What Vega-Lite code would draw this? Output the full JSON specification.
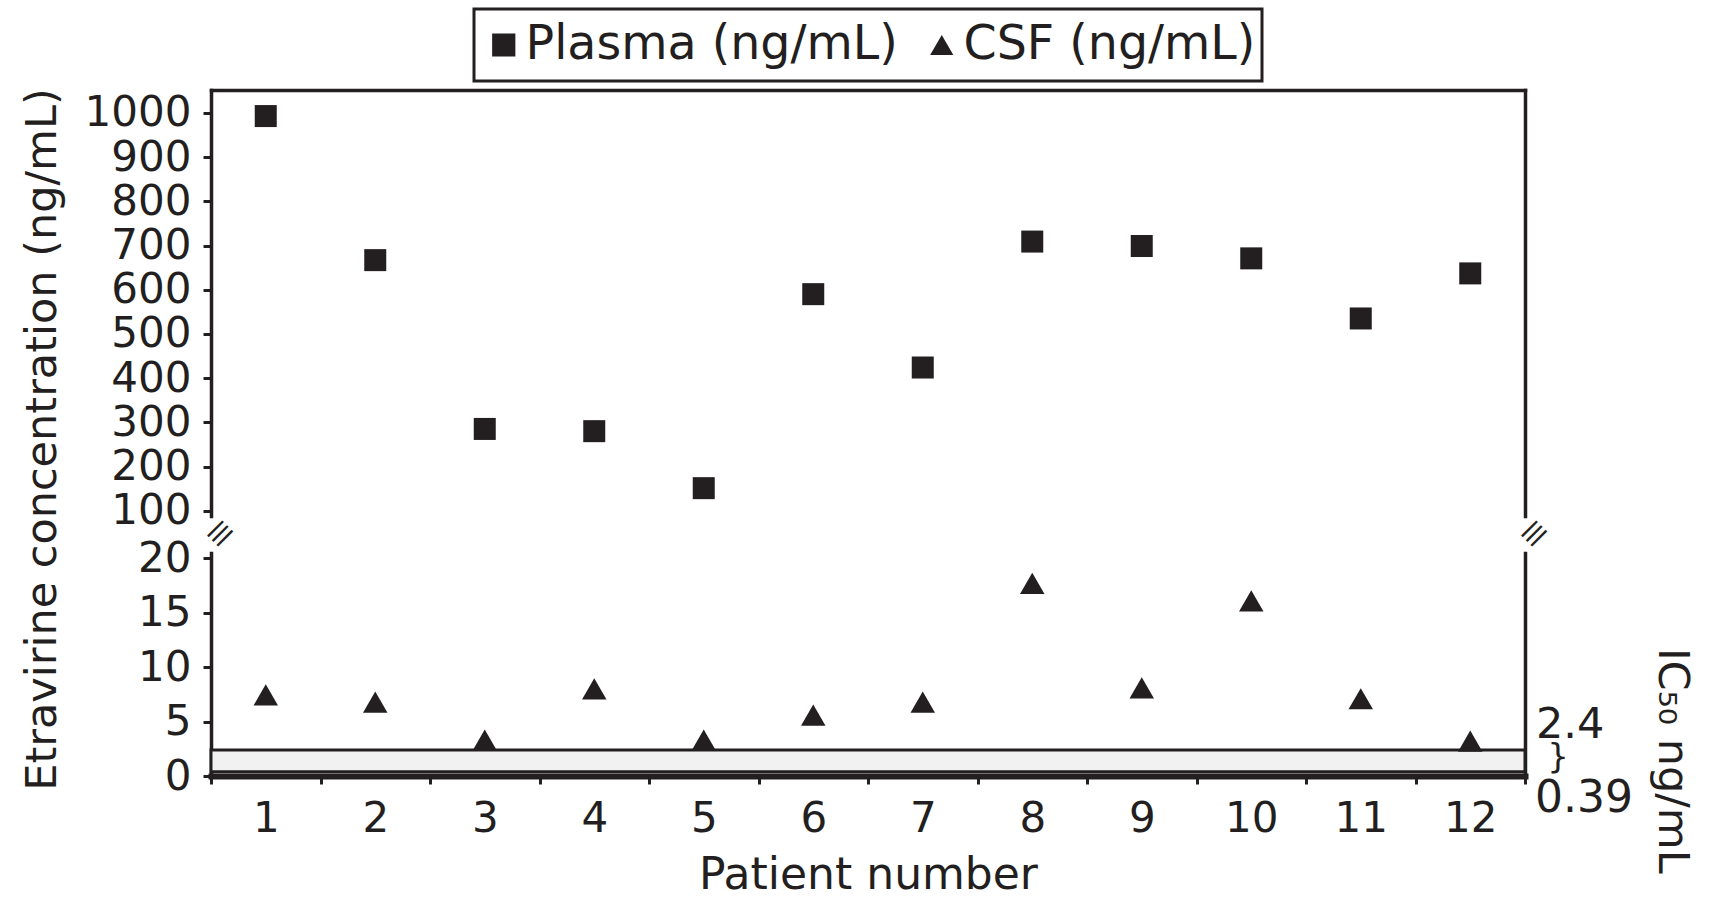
{
  "$schema": "https://vega.github.io/schema/vega-lite/v6.json",
  "background": "white",
  "padding": {"left": 21, "top": 7, "right": 18, "bottom": 0},
  "config": {
    "font": "DejaVu Sans",
    "view": {"stroke": null},
    "legend": {"strokeWidth": 3, "strokeColor": "#231f20"},
    "axis": {
      "grid": false,
      "domainColor": "#231f20",
      "tickColor": "#231f20",
      "labelColor": "#231f20",
      "titleColor": "#231f20",
      "domainWidth": 3.5,
      "tickWidth": 3,
      "tickSize": 8,
      "labelFontSize": 42,
      "titleFontSize": 43,
      "titleFontWeight": "normal",
      "domainCap": "square"
    }
  },
  "datasets": {
    "plasma": [
      {"patient": 1, "series": "Plasma (ng/mL)", "value": 993},
      {"patient": 2, "series": "Plasma (ng/mL)", "value": 667},
      {"patient": 3, "series": "Plasma (ng/mL)", "value": 285},
      {"patient": 4, "series": "Plasma (ng/mL)", "value": 280},
      {"patient": 5, "series": "Plasma (ng/mL)", "value": 151},
      {"patient": 6, "series": "Plasma (ng/mL)", "value": 590},
      {"patient": 7, "series": "Plasma (ng/mL)", "value": 424},
      {"patient": 8, "series": "Plasma (ng/mL)", "value": 709},
      {"patient": 9, "series": "Plasma (ng/mL)", "value": 699},
      {"patient": 10, "series": "Plasma (ng/mL)", "value": 671},
      {"patient": 11, "series": "Plasma (ng/mL)", "value": 535},
      {"patient": 12, "series": "Plasma (ng/mL)", "value": 637}
    ],
    "csf": [
      {"patient": 1, "series": "CSF (ng/mL)", "value": 7.45},
      {"patient": 2, "series": "CSF (ng/mL)", "value": 6.8},
      {"patient": 3, "series": "CSF (ng/mL)", "value": 3.3},
      {"patient": 4, "series": "CSF (ng/mL)", "value": 8.0},
      {"patient": 5, "series": "CSF (ng/mL)", "value": 3.3},
      {"patient": 6, "series": "CSF (ng/mL)", "value": 5.6},
      {"patient": 7, "series": "CSF (ng/mL)", "value": 6.8},
      {"patient": 8, "series": "CSF (ng/mL)", "value": 17.7},
      {"patient": 9, "series": "CSF (ng/mL)", "value": 8.1},
      {"patient": 10, "series": "CSF (ng/mL)", "value": 16.1},
      {"patient": 11, "series": "CSF (ng/mL)", "value": 7.1},
      {"patient": 12, "series": "CSF (ng/mL)", "value": 3.2}
    ],
    "ic50": [{"lo": 0.39, "hi": 2.4}],
    "icLabels": [
      {"label": "2.4", "value": 2.4},
      {"label": "0.39", "value": 0.39}
    ],
    "brace": [{"label": "}", "value": 1.4, "title": "IC₅₀ ng/mL"}],
    "breaks": [{"label": "≡", "value": 22.2}]
  },
  "spacing": 37,
  "bounds": "flush",
  "resolve": {"scale": {"shape": "shared"}, "legend": {"shape": "shared"}},
  "vconcat": [
    {
      "width": 1314,
      "height": 426,
      "data": {"name": "plasma"},
      "layer": [
        {
          "mark": {"type": "point", "filled": true, "size": 484, "color": "#231f20", "opacity": 1},
          "encoding": {
            "x": {
              "field": "patient", "type": "ordinal",
              "scale": {"paddingInner": 0, "paddingOuter": 0},
              "axis": {"orient": "top", "labels": false, "ticks": false, "title": null, "domain": true}
            },
            "y": {
              "field": "value", "type": "quantitative",
              "scale": {"domain": [88, 1052], "nice": false, "zero": false},
              "axis": {
                "orient": "left",
                "values": [100, 200, 300, 400, 500, 600, 700, 800, 900, 1000],
                "format": "d",
                "labelPadding": 12,
                "title": "Etravirine concentration (ng/mL)",
                "titleY": 349,
                "titlePadding": 20,
                "titleLimit": 2000
              }
            },
            "shape": {
              "field": "series", "type": "nominal",
              "scale": {"domain": ["Plasma (ng/mL)", "CSF (ng/mL)"], "range": ["square", "triangle-up"]},
              "legend": {
                "orient": "none",
                "legendX": 263,
                "legendY": -81,
                "direction": "horizontal",
                "title": null,
                "labelFontSize": 47.5,
                "labelLimit": 0,
                "labelColor": "#231f20",
                "labelOffset": -2,
                "columnPadding": 20,
                "symbolSize": 540,
                "symbolFillColor": "#231f20",
                "symbolStrokeColor": "#231f20",
                "symbolStrokeWidth": 0,
                "fillColor": "white",
                "clipHeight": 60,
                "padding": 6
              }
            }
          }
        },
        {
          "mark": {"type": "point", "opacity": 0},
          "encoding": {
            "x": {"field": "patient", "type": "ordinal"},
            "y": {
              "field": "value", "type": "quantitative",
              "axis": {"orient": "right", "labels": false, "ticks": false, "title": null, "domain": true}
            }
          }
        }
      ],
      "resolve": {"axis": {"y": "independent"}}
    },
    {
      "width": 1314,
      "height": 223,
      "layer": [
        {
          "data": {"name": "ic50"},
          "mark": {"type": "rect", "fill": "#f1f1f1", "stroke": "#231f20", "strokeWidth": 3},
          "encoding": {
            "y": {"field": "lo", "type": "quantitative", "axis": null},
            "y2": {"field": "hi"}
          }
        },
        {
          "data": {"name": "csf"},
          "mark": {"type": "point", "filled": true, "size": 600, "color": "#231f20", "opacity": 1},
          "encoding": {
            "x": {
              "field": "patient", "type": "ordinal",
              "scale": {"paddingInner": 0, "paddingOuter": 0},
              "axis": {
                "orient": "bottom",
                "labelAngle": 0,
                "tickBand": "extent",
                "domainWidth": 6,
                "labelPadding": 14,
                "title": "Patient number",
                "titleFontSize": 44,
                "titlePadding": 14
              }
            },
            "y": {
              "field": "value", "type": "quantitative",
              "scale": {"domain": [0, 20.5], "nice": false, "zero": false},
              "axis": {"orient": "left", "values": [0, 5, 10, 15, 20], "labelPadding": 12, "title": null}
            },
            "shape": {"field": "series", "type": "nominal"}
          }
        },
        {
          "data": {"name": "csf"},
          "mark": {"type": "point", "opacity": 0},
          "encoding": {
            "x": {"field": "patient", "type": "ordinal"},
            "y": {
              "field": "value", "type": "quantitative",
              "axis": {"orient": "right", "labels": false, "ticks": false, "title": null, "domain": true}
            }
          }
        },
        {
          "data": {"name": "icLabels"},
          "transform": [{"filter": "datum.label == '2.4'"}],
          "mark": {"type": "text", "align": "left", "baseline": "alphabetic", "dx": 11, "dy": -12, "fontSize": 43, "color": "#231f20"},
          "encoding": {
            "x": {"datum": 12, "type": "ordinal", "bandPosition": 1},
            "y": {"field": "value", "type": "quantitative", "axis": null},
            "text": {"field": "label"}
          }
        },
        {
          "data": {"name": "icLabels"},
          "transform": [{"filter": "datum.label == '0.39'"}],
          "mark": {"type": "text", "align": "left", "baseline": "alphabetic", "dx": 10, "dy": 40, "fontSize": 44, "color": "#231f20"},
          "encoding": {
            "x": {"datum": 12, "type": "ordinal", "bandPosition": 1},
            "y": {"field": "value", "type": "quantitative", "axis": null},
            "text": {"field": "label"}
          }
        },
        {
          "data": {"name": "brace"},
          "mark": {"type": "text", "align": "center", "baseline": "middle", "dx": 33, "dy": -3, "fontSize": 34, "color": "#231f20"},
          "encoding": {
            "x": {"datum": 12, "type": "ordinal", "bandPosition": 1},
            "y": {"field": "value", "type": "quantitative", "axis": null},
            "text": {"field": "label"}
          }
        },
        {
          "data": {"name": "brace"},
          "mark": {"type": "text", "align": "center", "baseline": "middle", "angle": 90, "dy": -147, "fontSize": 43, "color": "#231f20"},
          "encoding": {
            "x": {"datum": 12, "type": "ordinal", "bandPosition": 1},
            "y": {"field": "value", "type": "quantitative", "axis": null},
            "text": {"field": "title"}
          }
        },
        {
          "data": {"name": "breaks"},
          "mark": {"type": "text", "align": "center", "baseline": "middle", "angle": -45, "dx": 7, "dy": 7, "fontSize": 46, "fontWeight": 200, "color": "#231f20"},
          "encoding": {
            "x": {"datum": 1, "type": "ordinal", "bandPosition": 0},
            "y": {"field": "value", "type": "quantitative", "axis": null},
            "text": {"field": "label"}
          }
        },
        {
          "data": {"name": "breaks"},
          "mark": {"type": "text", "align": "center", "baseline": "middle", "angle": -45, "dx": 7, "dy": 7, "fontSize": 46, "fontWeight": 200, "color": "#231f20"},
          "encoding": {
            "x": {"datum": 12, "type": "ordinal", "bandPosition": 1},
            "y": {"field": "value", "type": "quantitative", "axis": null},
            "text": {"field": "label"}
          }
        }
      ],
      "resolve": {"axis": {"y": "independent"}}
    }
  ]
}
